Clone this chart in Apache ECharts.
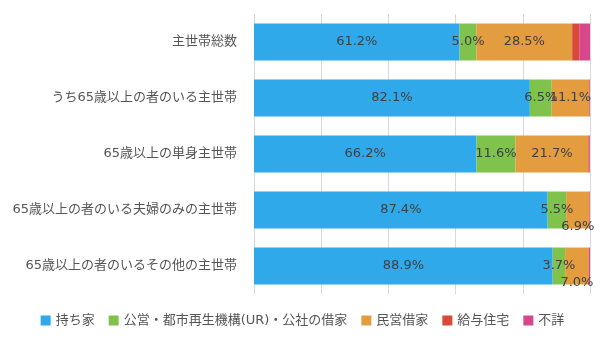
<!DOCTYPE html>
<html><head><meta charset="utf-8">
<script src="https://cdn.jsdelivr.net/npm/echarts@6/dist/echarts.min.js"></script>
<style>html,body{margin:0;padding:0;background:#fff}#c{width:605px;height:345px}</style>
</head><body><div id="c"></div>
<script>
const categories = ["主世帯総数","うち65歳以上の者のいる主世帯","65歳以上の単身主世帯","65歳以上の者のいる夫婦のみの主世帯","65歳以上の者のいるその他の主世帯"];
const seriesNames = ["持ち家","公営・都市再生機構(UR)・公社の借家","民営借家","給与住宅","不詳"];
const ownHouse = [61.2, 82.1, 66.2, 87.4, 88.9];
const publicRent = [5.0, 6.5, 11.6, 5.5, 3.7];
const privateRent = [28.5, 11.1, 21.7, 6.9, 7.0];
const companyHouse = [2.1, 0.1, 0.3, 0.0, 0.1];
const unknown = [3.2, 0.2, 0.2, 0.2, 0.3];
const colors = ["#2fa9e9","#7fc24c","#e39d3f","#d9493a","#d7478b"];
const allData = [ownHouse, publicRent, privateRent, companyHouse, unknown];
const font = '"DejaVu Sans", "Noto Sans CJK JP", sans-serif';
const fmt = v => v.toFixed(1) + '%';

// label overlap handling: push a label down when it collides with its left neighbour
const plotW = 605 - 254 - 15;
const ctx = document.createElement('canvas').getContext('2d');
ctx.font = '13px ' + font;
function labelOffsets(si) {
  return categories.map((c, r) => {
    if (si === 0) return 0;
    const start = allData.slice(0, si).reduce((s, a) => s + a[r], 0);
    const prevStart = start - allData[si - 1][r];
    const cx = (start + allData[si][r] / 2) / 100 * plotW;
    const pcx = (prevStart + allData[si - 1][r] / 2) / 100 * plotW;
    const w = ctx.measureText(fmt(allData[si][r])).width;
    const pw = ctx.measureText(fmt(allData[si - 1][r])).width;
    const overlap = (pcx + pw / 2) - (cx - w / 2);
    return overlap > 10 ? 17 : 0;
  });
}

const chart = echarts.init(document.getElementById('c'));
chart.setOption({
  animation: false,
  color: colors,
  textStyle: {fontFamily: font},
  grid: {left: 254, right: 15, top: 14, bottom: 51, containLabel: false},
  xAxis: {type: 'value', min: 0, max: 100, interval: 20,
    axisLabel: {show: false}, axisLine: {show: false}, axisTick: {show: false},
    splitLine: {lineStyle: {color: '#d9d9d9'}}},
  yAxis: {type: 'category', data: categories, inverse: true,
    axisLine: {show: false}, axisTick: {show: false},
    axisLabel: {color: '#555', fontSize: 13, margin: 17, fontFamily: font}},
  legend: {bottom: 13, left: 'center', itemWidth: 10, itemHeight: 10, itemGap: 14,
    icon: 'rect', textStyle: {color: '#555', fontSize: 13, fontFamily: font}},
  series: seriesNames.map((n, i) => {
    const offs = labelOffsets(i);
    return {
      name: n, type: 'bar', stack: 'total', barWidth: '66%',
      data: allData[i].map((v, r) => ({value: v, label: {offset: [0, offs[r]]}})),
      label: {show: i < 3, position: 'inside', color: '#404040', fontSize: 13,
        fontFamily: font, formatter: p => fmt(p.value)}
    };
  })
});
</script></body></html>
